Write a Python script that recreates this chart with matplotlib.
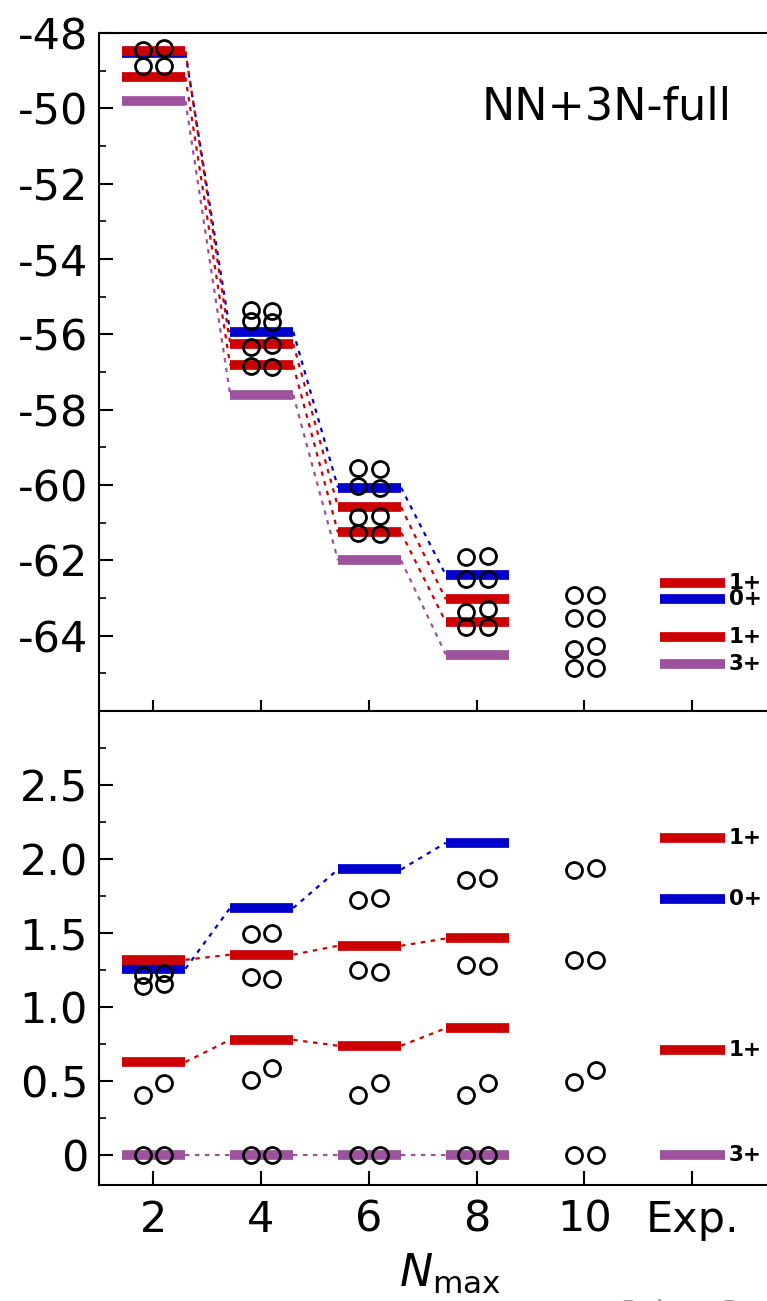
import matplotlib
matplotlib.use('Agg')
import matplotlib.pyplot as plt
from matplotlib.ticker import MultipleLocator

# model spaces with a full calculation, experiment sits at x=12
nmax = [2, 4, 6, 8]
circ_n = [2, 4, 6, 8, 10]
exp_x = 12
xtick_pos = [2, 4, 6, 8, 10, 12]
xtick_labels = ['2', '4', '6', '8', '10', 'Exp.']

# level order: 3+ (ground), 1+, 0+, 1+
state_labels = ['3+', '1+', '0+', '1+']
state_colors = ['#9c529c', '#cc0000', '#0000cc', '#cc0000']

# ground-state energies of the bars (MeV)
bar_e0 = [-49.80, -57.60, -62.00, -64.50]
# excitation energies of the bars, one row per Nmax
bar_ex = [
    [0.0, 0.63, 1.26, 1.32],
    [0.0, 0.78, 1.67, 1.355],
    [0.0, 0.74, 1.93, 1.415],
    [0.0, 0.858, 2.11, 1.464],
]

exp_e0 = -64.75
exp_ex = [0.0, 0.712, 1.73, 2.145]

# open circles, two sets per Nmax (left / right of the tick)
circ_e0_left = [-48.87, -56.84, -61.27, -63.77, -64.86]
circ_e0_right = [-48.87, -56.87, -61.31, -63.77, -64.86]
circ_ex_left = [
    [0.0, 0.41, 1.145, 1.22],
    [0.0, 0.51, 1.205, 1.496],
    [0.0, 0.41, 1.253, 1.725],
    [0.0, 0.406, 1.285, 1.86],
    [0.0, 0.494, 1.32, 1.927],
]
circ_ex_right = [
    [0.0, 0.485, 1.155, 1.23],
    [0.0, 0.59, 1.19, 1.503],
    [0.0, 0.49, 1.24, 1.74],
    [0.0, 0.487, 1.275, 1.875],
    [0.0, 0.577, 1.32, 1.943],
]

plt.rcParams['font.family'] = 'DejaVu Sans'

fig = plt.figure(figsize=(7.67, 13.01), dpi=100)
ax1 = fig.add_axes([0.1293, 0.4535, 0.9137, 0.5211])
ax2 = fig.add_axes([0.1293, 0.0892, 0.9137, 0.3643])

BL, BR = 0.57, 0.60
dots = (0, (2, 2.5))


def draw_levels(ax, absolute):
    for j in range(4):
        col = state_colors[j]
        ys = []
        for i, n in enumerate(nmax):
            y = bar_ex[i][j] + (bar_e0[i] if absolute else 0.0)
            ys.append(y)
            ax.plot([n - BL, n + BR], [y, y], color=col, lw=7,
                    solid_capstyle='butt', zorder=3)
        for k in range(len(nmax) - 1):
            ax.plot([nmax[k] + BR, nmax[k + 1] - BL], [ys[k], ys[k + 1]],
                    color=col, lw=1.6, ls=dots, zorder=2)
        ye = exp_ex[j] + (exp_e0 if absolute else 0.0)
        ax.plot([exp_x - 0.6, exp_x + 0.6], [ye, ye], color=col, lw=7,
                solid_capstyle='butt', zorder=3)
        ax.text(exp_x + 0.68, ye, state_labels[j], fontsize=15.5,
                fontweight='bold', va='center', ha='left', zorder=4)

    for i, n in enumerate(circ_n):
        yl = [e + (circ_e0_left[i] if absolute else 0.0) for e in circ_ex_left[i]]
        yr = [e + (circ_e0_right[i] if absolute else 0.0) for e in circ_ex_right[i]]
        ax.plot([n - 0.19] * 4, yl, 'o', mfc='none', mec='k', ms=11.5, mew=2, zorder=5)
        ax.plot([n + 0.21] * 4, yr, 'o', mfc='none', mec='k', ms=11.5, mew=2, zorder=5)


draw_levels(ax1, True)
draw_levels(ax2, False)

for ax in (ax1, ax2):
    ax.set_xlim(1, 14)
    ax.set_xticks(xtick_pos)
    for sp in ax.spines.values():
        sp.set_linewidth(1.5)
    ax.tick_params(axis='y', which='major', direction='in', length=10, width=1.5,
                   labelsize=31, pad=8)
    ax.tick_params(axis='y', which='minor', direction='in', length=5, width=1.2)

ax1.set_ylim(-66, -48)
ax1.set_yticks(range(-64, -47, 2))
ax1.set_yticklabels([str(v) for v in range(-64, -47, 2)])
ax1.yaxis.set_minor_locator(MultipleLocator(1))
ax1.tick_params(axis='x', direction='inout', length=16, width=1.5,
                labelbottom=False)
ax1.text(10.42, -49.96, 'NN+3N-full', fontsize=32, ha='center', va='center')

ax2.set_ylim(-0.2, 3.0)
ax2.set_yticks([0, 0.5, 1.0, 1.5, 2.0, 2.5])
ax2.set_yticklabels(['0', '0.5', '1.0', '1.5', '2.0', '2.5'])
ax2.yaxis.set_minor_locator(MultipleLocator(0.25))
ax2.set_xticklabels(xtick_labels)
ax2.tick_params(axis='x', direction='in', length=10, width=1.5,
                labelsize=31, pad=10)
ax2.set_xlabel(r'$N_{\mathrm{max}}$', fontsize=32, labelpad=8)

fig.text(0.81, -0.0155, 'Robert Roth', color='#999999', fontsize=20, va='baseline')

fig.savefig('out.png', dpi=100)
